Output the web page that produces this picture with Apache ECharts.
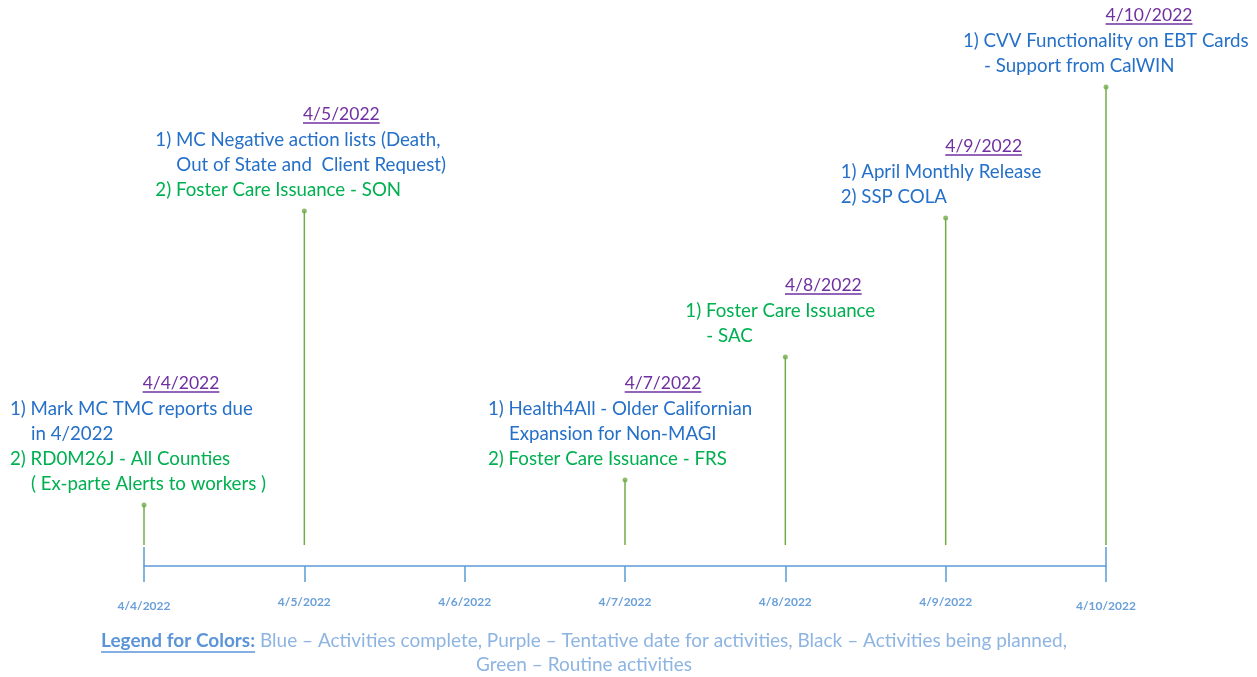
<!DOCTYPE html>
<html>
<head>
<meta charset="utf-8">
<script src="https://cdn.jsdelivr.net/npm/echarts@6/dist/echarts.min.js"></script>
<style>
html,body{margin:0;padding:0;background:#fff;}
#chart{width:1257px;height:677px;}
</style>
</head>
<body>
<div id="chart"></div>
<script>
// ---- data ----
const dates = ['4/4/2022','4/5/2022','4/6/2022','4/7/2022','4/8/2022','4/9/2022','4/10/2022'];
const eventDates = ['4/4/2022','4/5/2022','4/7/2022','4/8/2022','4/9/2022','4/10/2022'];
const stemHeights = [40, 334, 65, 188, 327, 458];
// each line: [status, indented?, text]  status: 'done' (blue) | 'routine' (green)
const notes44 = [['done',0,'1) Mark MC TMC reports due'],['done',1,'in 4/2022'],['routine',0,'2) RD0M26J - All Counties'],['routine',1,'( Ex-parte Alerts to workers )']];
const notes45 = [['done',0,'1) MC Negative action lists (Death,'],['done',1,'Out of State and  Client Request)'],['routine',0,'2) Foster Care Issuance - SON']];
const notes47 = [['done',0,'1) Health4All - Older Californian'],['done',1,'Expansion for Non-MAGI'],['routine',0,'2) Foster Care Issuance - FRS']];
const notes48 = [['routine',0,'1) Foster Care Issuance'],['routine',1,'- SAC']];
const notes49 = [['done',0,'1) April Monthly Release'],['done',0,'2) SSP COLA']];
const notes410 = [['done',0,'1) CVV Functionality on EBT Cards'],['done',1,'- Support from CalWIN']];
const eventNotes = [notes44, notes45, notes47, notes48, notes49, notes410];
const legendTitle = 'Legend for Colors:';
const legendLine1 = ' Blue \u2013 Activities complete, Purple \u2013 Tentative date for activities, Black \u2013 Activities being planned,';
const legendLine2 = 'Green \u2013 Routine activities';

// ---- layout / style (not data) ----
const blockLeft = [-134, -149, -137, -100, -105, -143];   // text block left edge relative to stem
const dateCenter = [37, 37, 38, 38, 38, 43];              // date label center relative to stem
const FONT = 'Lato';
const statusColor = {done:'#2570C8', routine:'#00B050'};
const purple = '#7030A0';

const chart = echarts.init(document.getElementById('chart'), null, {renderer:'canvas'});
const stemData = dates.map(d => { const i = eventDates.indexOf(d); return i < 0 ? null : stemHeights[i]; });

chart.setOption({
  backgroundColor:'#fff',
  animation:false,
  grid:{left:144, right:151, top:45, bottom:132},
  xAxis:[{
    type:'category', data:dates, boundaryGap:false, position:'bottom', offset:21,
    axisLine:{onZero:false, lineStyle:{color:'#5B9BD5', width:1.5}},
    axisTick:{length:16, lineStyle:{color:'#5B9BD5', width:1.5}},
    axisLabel:{margin:30, color:'#6A9FD8', fontFamily:FONT, fontSize:12, fontWeight:'bold',
      formatter:(v,i)=> (i===0||i===dates.length-1) ? '{e|'+v+'}' : v,
      rich:{e:{color:'#6A9FD8', fontFamily:FONT, fontSize:12, fontWeight:'bold', padding:[4,0,0,0]}}},
    splitLine:{show:false}
  },{
    type:'category', data:dates, boundaryGap:false, position:'bottom', offset:21,
    axisLine:{show:false, onZero:false},
    axisTick:{inside:true, length:19, interval:(i)=> i===0||i===dates.length-1, lineStyle:{color:'#5B9BD5', width:1.5}},
    axisLabel:{show:false}
  }],
  yAxis:{type:'value', min:0, max:500, show:false, splitLine:{show:false}},
  series:[{
    type:'bar', data:stemData, barWidth:1.5, itemStyle:{color:'#70AD47'}, xAxisIndex:0
  },{
    type:'scatter', data:eventDates.map((d,i)=>[d, stemHeights[i]]), symbolSize:5,
    itemStyle:{color:'#70AD47'}, xAxisIndex:0, z:3
  }]
});

// ---- annotation text blocks ----
const ctx = document.createElement('canvas').getContext('2d');
function textW(t, font){ ctx.font = font; return ctx.measureText(t).width; }
const els = [];
const LINE = 25, INDENT = 21, FS = 18.7;
eventDates.forEach((d, i) => {
  const p = chart.convertToPixel({seriesIndex:1}, [d, stemHeights[i]]);
  const lines = eventNotes[i];
  const n = lines.length;
  const lastY = p[1] - 21;
  const firstY = lastY - (n-1)*LINE;
  lines.forEach((ln, k) => {
    els.push({type:'text', x:p[0] + blockLeft[i] + (ln[1] ? INDENT : 0), y:firstY + k*LINE,
      style:{text:ln[2], fill:statusColor[ln[0]], font:FS+'px '+FONT, textAlign:'left', textVerticalAlign:'middle'}});
  });
  const dy = firstY - 26;
  const cx = p[0] + dateCenter[i];
  const dfont = '17.5px '+FONT;
  els.push({type:'text', x:cx, y:dy, style:{text:d, fill:purple, font:dfont, textAlign:'center', textVerticalAlign:'middle'}});
  const w = textW(d, dfont);
  els.push({type:'line', shape:{x1:cx-w/2, y1:dy+9, x2:cx+w/2, y2:dy+9}, style:{stroke:purple, lineWidth:1.5}});
});
// legend text
const lfB = 'bold 19px '+FONT, lfN = '19px '+FONT;
const wB = textW(legendTitle, lfB), wN = textW(legendLine1, lfN);
const lx = 584 - (wB + wN)/2;
els.push({type:'text', x:lx, y:641, style:{text:legendTitle, fill:'#5B95D8', font:lfB, textAlign:'left', textVerticalAlign:'middle'}});
els.push({type:'line', shape:{x1:lx, y1:652, x2:lx+wB, y2:652}, style:{stroke:'#5B95D8', lineWidth:1.3}});
els.push({type:'text', x:lx+wB, y:641, style:{text:legendLine1, fill:'#8DB4E2', font:lfN, textAlign:'left', textVerticalAlign:'middle'}});
els.push({type:'text', x:584, y:665, style:{text:legendLine2, fill:'#8DB4E2', font:lfN, textAlign:'center', textVerticalAlign:'middle'}});
chart.setOption({graphic:{elements:els}});
</script>
</body>
</html>
